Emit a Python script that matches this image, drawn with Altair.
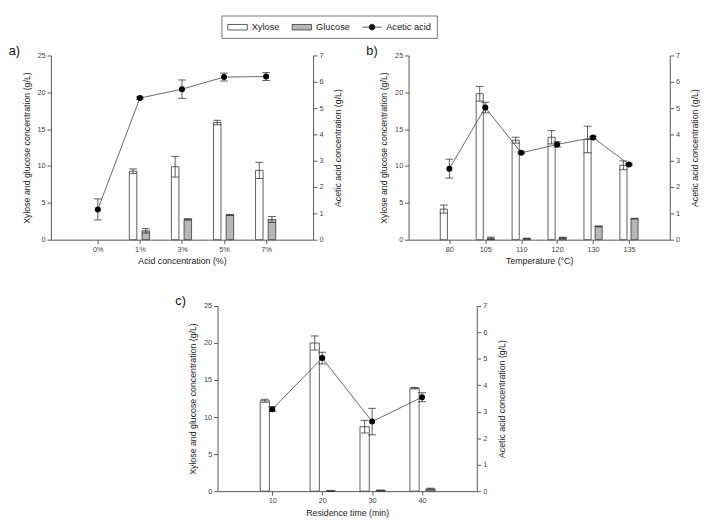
import altair as alt
import pandas as pd

# ---------------- data ----------------
series_names = ["Xylose", "Glucose", "Acetic acid"]

a_cats = ["0%", "1%", "3%", "5%", "7%"]
a_xyl = [None, 9.3, 9.9, 15.9, 9.4]
a_xyl_err = [None, 0.3, 1.4, 0.3, 1.1]
a_glu = [None, 1.2, 2.75, 3.35, 2.75]
a_glu_err = [None, 0.3, 0.1, 0.05, 0.4]
a_ace = [1.15, 5.38, 5.72, 6.18, 6.2]
a_ace_err = [0.4, 0.04, 0.35, 0.15, 0.15]

b_cats = ["80", "105", "110", "120", "130", "135"]
b_xyl = [4.15, 19.8, 13.5, 13.9, 13.6, 10.1]
b_xyl_err = [0.55, 1.0, 0.4, 0.9, 1.8, 0.6]
b_glu = [None, 0.2, 0.15, 0.25, 1.8, 2.85]
b_glu_err = [None, 0.15, 0.05, 0.08, 0.06, 0.05]
b_ace = [2.7, 5.02, 3.3, 3.62, 3.88, 2.86]
b_ace_err = [0.36, 0.2, 0.03, 0.1, 0.05, 0.03]

c_cats = ["10", "20", "30", "40"]
c_xyl = [12.2, 20.0, 8.7, 13.9]
c_xyl_err = [0.2, 0.95, 0.85, 0.1]
c_glu = [None, 0.03, 0.1, 0.3]
c_glu_err = [None, 0.01, 0.05, 0.1]
c_ace = [3.1, 5.03, 2.63, 3.55]
c_ace_err = [0.09, 0.22, 0.5, 0.17]

FONT = "Liberation Sans"
DARK = "#333333"
LEFT_TITLE = "Xylose and glucose concentration (g/L)"
RIGHT_TITLE = "Acetic acid concentration (g/L)"

# legend glyphs (unit = 5 px at symbolSize 100), drawn from x=-1 to x=3
legend_paths = [
    "M-1,-0.56H3V0.56H-1Z",
    "M-1,-0.56H3V0.56H-1Z",
    "M-1,0H3M0.4,0A0.6,0.6 0 1 1 1.6,0A0.6,0.6 0 1 1 0.4,0Z",
]


def frame(vals, errs):
    rows = []
    for i, (v, e) in enumerate(zip(vals, errs), start=1):
        if v is None:
            continue
        rows.append({"i": i, "v": v, "lo": v - e, "hi": v + e})
    return pd.DataFrame(rows)


def panel(cats, xyl, xyl_err, glu, glu_err, ace, ace_err, xtitle, label,
          width, height, barw, xoff, goff, with_legend=False):
    n = len(cats)
    idx = list(range(1, n + 1))
    label_list = ",".join("'" + c + "'" for c in cats)
    xenc = alt.X(
        "i:Q",
        scale=alt.Scale(domain=[0, n + 1], nice=False, zero=False),
        axis=alt.Axis(values=idx, labelExpr="[" + label_list + "][datum.value - 1]",
                      title=xtitle, grid=False, titlePadding=4),
    )
    yl_axis = alt.Axis(values=[0, 5, 10, 15, 20, 25], title=LEFT_TITLE, grid=False,
                       titlePadding=6)
    yl_scale = alt.Scale(domain=[0, 25], nice=False)
    yr_axis = alt.Axis(values=[0, 1, 2, 3, 4, 5, 6, 7], title=RIGHT_TITLE, orient="right",
                       grid=False, titlePadding=20, titleAngle=270)
    yr_scale = alt.Scale(domain=[0, 7], nice=False)

    dx = frame(xyl, xyl_err)
    dg = frame(glu, glu_err)
    da = frame(ace, ace_err)

    def bar_group(df, off, fill):
        base = alt.Chart(df)
        bars = base.mark_bar(width=barw, xOffset=off, fill=fill, stroke=DARK,
                             strokeWidth=0.8).encode(
            x=xenc, y=alt.Y("v:Q", scale=yl_scale, axis=yl_axis))
        stem = base.mark_rule(xOffset=off, stroke=DARK, strokeWidth=0.8).encode(
            x=xenc, y=alt.Y("lo:Q", scale=yl_scale, axis=yl_axis), y2="hi:Q")
        cap_hi = base.mark_rule(xOffset=off - 4, x2Offset=off + 4, stroke=DARK,
                                strokeWidth=0.8).encode(
            x=xenc, x2="i:Q", y=alt.Y("hi:Q", scale=yl_scale, axis=yl_axis))
        cap_lo = base.mark_rule(xOffset=off - 4, x2Offset=off + 4, stroke=DARK,
                                strokeWidth=0.8).encode(
            x=xenc, x2="i:Q", y=alt.Y("lo:Q", scale=yl_scale, axis=yl_axis))
        return [bars, stem, cap_hi, cap_lo]

    left_layers = bar_group(dx, xoff, "white") + bar_group(dg, goff, "#b7b7b7")

    if with_legend:
        # legend carrier: points placed outside the plotted range and clipped away
        dleg = pd.DataFrame({"series": series_names, "i": [1, 1, 1], "v": [-100, -100, -100]})
        leg = alt.Legend(title=None, orient="none", direction="horizontal",
                         legendX=175, legendY=-41, strokeColor="#777", padding=6,
                         labelFont=FONT, labelFontSize=9.5, labelColor="#222",
                         symbolSize=100, columnPadding=10, labelOffset=14,
                         symbolStrokeWidth=0.8, symbolOpacity=1)
        dummy = alt.Chart(dleg).mark_point(filled=True, clip=True, strokeWidth=0.8,
                                            opacity=1).encode(
            x=xenc,
            y=alt.Y("v:Q", scale=yl_scale, axis=yl_axis),
            fill=alt.Fill("series:N",
                          scale=alt.Scale(domain=series_names,
                                          range=["white", "#b7b7b7", "black"]),
                          legend=leg),
            stroke=alt.Stroke("series:N",
                              scale=alt.Scale(domain=series_names,
                                              range=[DARK, DARK, DARK]),
                              legend=leg),
            shape=alt.Shape("series:N",
                            scale=alt.Scale(domain=series_names, range=legend_paths),
                            legend=leg),
        )
        left_layers.append(dummy)

    left = alt.layer(*left_layers)

    ab = alt.Chart(da)
    line = ab.mark_line(color="#555555", strokeWidth=0.9).encode(
        x=xenc, y=alt.Y("v:Q", scale=yr_scale, axis=yr_axis))
    astem = ab.mark_rule(stroke=DARK, strokeWidth=0.8).encode(
        x=xenc, y=alt.Y("lo:Q", scale=yr_scale, axis=yr_axis), y2="hi:Q")
    acap_hi = ab.mark_rule(xOffset=-4, x2Offset=4, stroke=DARK, strokeWidth=0.8).encode(
        x=xenc, x2="i:Q", y=alt.Y("hi:Q", scale=yr_scale, axis=yr_axis))
    acap_lo = ab.mark_rule(xOffset=-4, x2Offset=4, stroke=DARK, strokeWidth=0.8).encode(
        x=xenc, x2="i:Q", y=alt.Y("lo:Q", scale=yr_scale, axis=yr_axis))
    pts = ab.mark_circle(size=38, color="black", opacity=1).encode(
        x=xenc, y=alt.Y("v:Q", scale=yr_scale, axis=yr_axis))
    right = alt.layer(line, astem, acap_hi, acap_lo, pts)

    return alt.layer(left, right).resolve_scale(y="independent").properties(
        width=width, height=height,
        title=alt.TitleParams(label, anchor="start", fontSize=13, fontWeight="normal",
                              font=FONT, color="#111", offset=-6, dx=-14),
    )


pa = panel(a_cats, a_xyl, a_xyl_err, a_glu, a_glu_err, a_ace, a_ace_err,
           "Acid concentration (%)", "a)", 269, 189, 7.7, -7, 6, with_legend=True)
pb = panel(b_cats, b_xyl, b_xyl_err, b_glu, b_glu_err, b_ace, b_ace_err,
           "Temperature (\u00b0C)", "b)", 268, 189, 7.3, -5.7, 5.7)
pc = panel(c_cats, c_xyl, c_xyl_err, c_glu, c_glu_err, c_ace, c_ace_err,
           "Residence time (min)", "c)", 266, 190, 9.5, -7.7, 8.7)

# empty spacer that pushes panel c to the right
spacer = alt.Chart(pd.DataFrame({"s": []})).mark_point().encode(
    x=alt.X("s:Q", axis=None)
).properties(width=127, height=10)

chart = alt.vconcat(
    alt.hconcat(pa, pb, spacing=23),
    alt.hconcat(spacer, pc, spacing=0),
    spacing=30,
).properties(
    padding={"left": 0, "top": 0, "right": 0, "bottom": 0}
).configure_view(stroke=None).configure_axis(
    labelFont=FONT, titleFont=FONT, labelFontSize=7.5, titleFontSize=9,
    labelColor="#444", titleColor="#222", domainColor="#555", tickColor="#555",
    tickSize=4, titleFontWeight="normal", labelPadding=2,
)

chart.save("out.html", embed_options={"renderer": "svg", "actions": False})
